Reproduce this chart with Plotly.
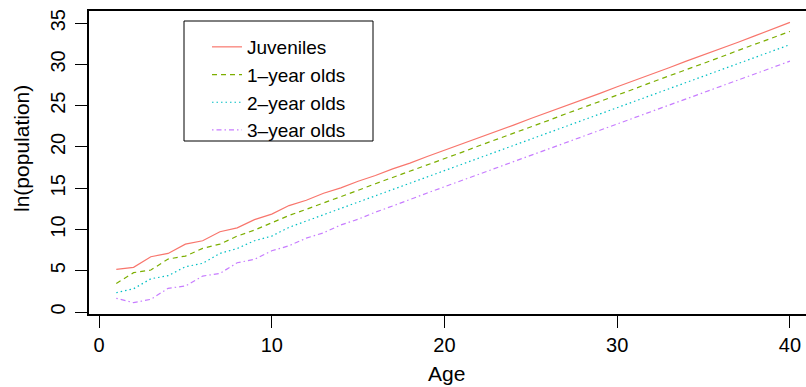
import plotly.graph_objects as go

age = list(range(1, 41))

juveniles = [5.17, 5.41, 6.70, 7.10, 8.23, 8.64, 9.73, 10.20, 11.20, 11.87,
             12.90, 13.55, 14.40, 15.05, 15.85, 16.55, 17.35, 18.05, 18.85, 19.60,
             20.35, 21.10, 21.90, 22.65, 23.45, 24.20, 24.95, 25.75, 26.50, 27.30,
             28.05, 28.85, 29.60, 30.40, 31.15, 31.95, 32.70, 33.50, 34.30, 35.10]
one_year = [3.47, 4.77, 5.09, 6.42, 6.78, 7.71, 8.23, 9.20, 9.93, 10.80,
            11.70, 12.45, 13.20, 14.00, 14.75, 15.55, 16.30, 17.05, 17.85, 18.60,
            19.35, 20.15, 20.90, 21.65, 22.45, 23.20, 24.00, 24.75, 25.50, 26.30,
            27.05, 27.85, 28.60, 29.40, 30.15, 30.90, 31.70, 32.45, 33.20, 34.00]
two_year = [2.34, 2.82, 4.03, 4.40, 5.49, 5.90, 7.10, 7.70, 8.64, 9.20,
            10.26, 11.00, 11.80, 12.56, 13.32, 14.08, 14.85, 15.61, 16.37, 17.14,
            17.90, 18.66, 19.43, 20.19, 20.95, 21.72, 22.48, 23.24, 24.00, 24.77,
            25.53, 26.30, 27.06, 27.82, 28.58, 29.35, 30.11, 30.87, 31.64, 32.40]
three_year = [1.66, 1.13, 1.54, 2.87, 3.15, 4.36, 4.68, 5.97, 6.38, 7.42,
              8.03, 8.95, 9.60, 10.55, 11.25, 12.10, 12.85, 13.66, 14.42, 15.18,
              15.94, 16.70, 17.47, 18.23, 18.99, 19.75, 20.51, 21.27, 22.03, 22.79,
              23.55, 24.31, 25.07, 25.83, 26.60, 27.36, 28.12, 28.88, 29.64, 30.40]

names = ["Juveniles", "1\u2013year olds", "2\u2013year olds", "3\u2013year olds"]
series = [juveniles, one_year, two_year, three_year]
colors = ["#F8766D", "#7CAE00", "#00BFC4", "#C77CFF"]
dashes = ["solid", "5px,4px", "1.5px,3px", "1.5px,3px,5px,3px"]

x_ticks = [0, 10, 20, 30, 40]
y_ticks = [0, 5, 10, 15, 20, 25, 30, 35]

FONT = "Liberation Sans, Arial, Helvetica, sans-serif"
PW = 717.0   # plot-area width in px
PH = 303.0   # plot-area height in px

fig = go.Figure()
for nm, ys, c, d in zip(names, series, colors, dashes):
    fig.add_trace(go.Scatter(x=age, y=ys, mode="lines", name=nm,
                             line=dict(color=c, width=1.2, dash=d)))

fig.update_layout(
    width=806, height=387,
    margin=dict(l=89, r=0, t=11, b=73),
    plot_bgcolor="white", paper_bgcolor="white",
    font=dict(family=FONT, size=20, color="black"),
    showlegend=True,
    legend=dict(x=(207 - 89) / PW, y=(314 - 28) / PH, xanchor="left", yanchor="top",
                borderwidth=0, bgcolor="rgba(0,0,0,0)",
                font=dict(size=19), tracegroupgap=0),
    xaxis=dict(range=[-0.58, 40.93], tickvals=x_ticks, ticks="outside",
               ticklen=12, tickwidth=1, tickcolor="black",
               showline=True, linecolor="black", linewidth=1.5, mirror=True,
               showgrid=False, zeroline=False, ticklabelstandoff=0,
               tickfont=dict(size=20)),
    yaxis=dict(range=[-0.24, 36.48], tickvals=y_ticks, ticks="outside",
               ticklen=12, tickwidth=1, tickcolor="black",
               showline=True, linecolor="black", linewidth=1.5,
               showgrid=False, zeroline=False, tickangle=-90,
               ticklabelstandoff=2, tickfont=dict(size=20)),
    shapes=[
        dict(type="rect", xref="paper", yref="paper",
             x0=(184 - 89) / PW, x1=(373 - 89) / PW,
             y0=(314 - 141) / PH, y1=(314 - 21) / PH,
             line=dict(color="black", width=1), fillcolor="rgba(0,0,0,0)",
             layer="above"),
    ],
    annotations=[
        dict(text="Age", xref="paper", yref="paper", x=(446 - 89) / PW,
             y=(314 - 373) / PH, xanchor="center", yanchor="middle",
             showarrow=False, font=dict(size=21)),
        dict(text="ln(population)", xref="paper", yref="paper",
             x=(21 - 89) / PW, y=(314 - 149) / PH, textangle=-90,
             xanchor="center", yanchor="middle", showarrow=False,
             font=dict(size=21)),
    ],
)

fig.write_html("out.html")
